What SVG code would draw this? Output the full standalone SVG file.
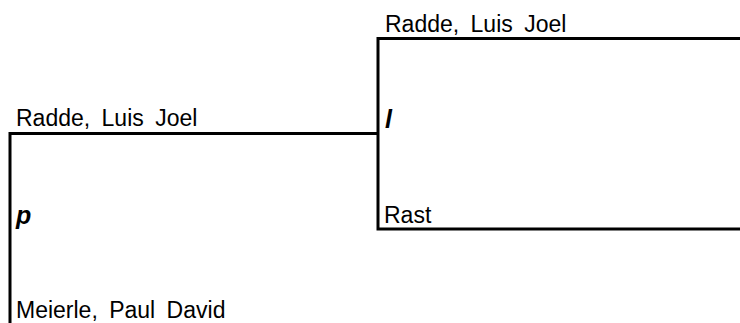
<svg xmlns="http://www.w3.org/2000/svg" width="740" height="323" viewBox="0 0 740 323">
<style>
.ln{fill:none;stroke:#000;stroke-width:3}
.t{font-family:"Liberation Sans",Arial,sans-serif;font-size:23px;word-spacing:5px;fill:#000}
.b{font-family:"Liberation Sans",Arial,sans-serif;font-size:25px;font-weight:bold;font-style:italic;fill:#000}
</style>
<rect width="740" height="323" fill="#fff"/>
<g id="connectors">
<path class="ln" d="M10,323 V133.5 H378"/>
<path class="ln" d="M740,38.5 H378 V229 H740"/>
</g>
<g id="match-left">
<text class="t" x="16" y="126">Radde, Luis Joel</text>
<text class="b" x="16" y="224">p</text>
<text class="t" x="16" y="318">Meierle, Paul David</text>
</g>
<g id="match-right">
<text class="t" x="385" y="31.5">Radde, Luis Joel</text>
<text class="b" x="385" y="128">l</text>
<text class="t" x="384" y="223">Rast</text>
</g>
</svg>
